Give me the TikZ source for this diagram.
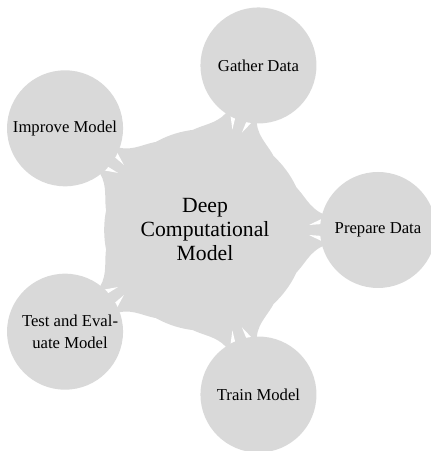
\documentclass[tikz,border=0pt]{standalone}
\usepackage{fontspec}
\setmainfont{Liberation Serif}
\usetikzlibrary{backgrounds}
\definecolor{cgray}{RGB}{217,217,217}
\tikzset{
  planet/.style={circle, fill=cgray, draw=none, inner sep=0pt, minimum size=121pt, align=center,
    font=\fontsize{13}{14.4}\selectfont},
  sat/.style={circle, fill=cgray, draw=none, inner sep=0pt, minimum size=69.6pt, align=center,
    font=\fontsize{10}{13.2}\selectfont},
  sattext/.style={inner sep=0pt, align=center, font=\fontsize{10}{13.2}\selectfont},
  bridge/.style={fill=cgray},
  slit/.style={fill=white}
}
\begin{document}
\begin{tikzpicture}[x=0.6pt,y=0.6pt]
\useasboundingbox (0,0) rectangle (430,451);
\node[planet] (P) at (205,221) {Deep\\Computational\\Model};
\node[sat] (gather)  at ([shift={(72:173)}]P.center)  {Gather Data};
\node[sat] (prep)    at ([shift={(0:173)}]P.center)   {Prepare Data};
\node[sat] (train)   at ([shift={(288:173)}]P.center) {Train Model};
\node[sat] (test)    at ([shift={(216:173)}]P.center) {};
\node[sattext] (testtxt) at ([xshift=3pt]test.center) {Test and Eval-\\uate Model};
\node[sat] (improve) at ([shift={(144:173)}]P.center) {Improve Model};
\begin{pgfonlayer}{background}
\foreach \s/\a in {gather/72, prep/0, train/288, test/216, improve/144} {
  \begin{scope}[shift={(P.center)}, rotate=\a]
    \fill[bridge] (26:100) .. controls (99,36) and (104,22) .. (118,16)
      -- (118,-16) .. controls (104,-22) and (99,-36) .. (-26:100) -- cycle;
    \fill[slit] (104,5) -- (117.5,6) -- (117.5,11.5) -- cycle;
    \fill[slit] (104,-5) -- (117.5,-6) -- (117.5,-11.5) -- cycle;
  \end{scope}
}
\end{pgfonlayer}
\end{tikzpicture}
\end{document}
